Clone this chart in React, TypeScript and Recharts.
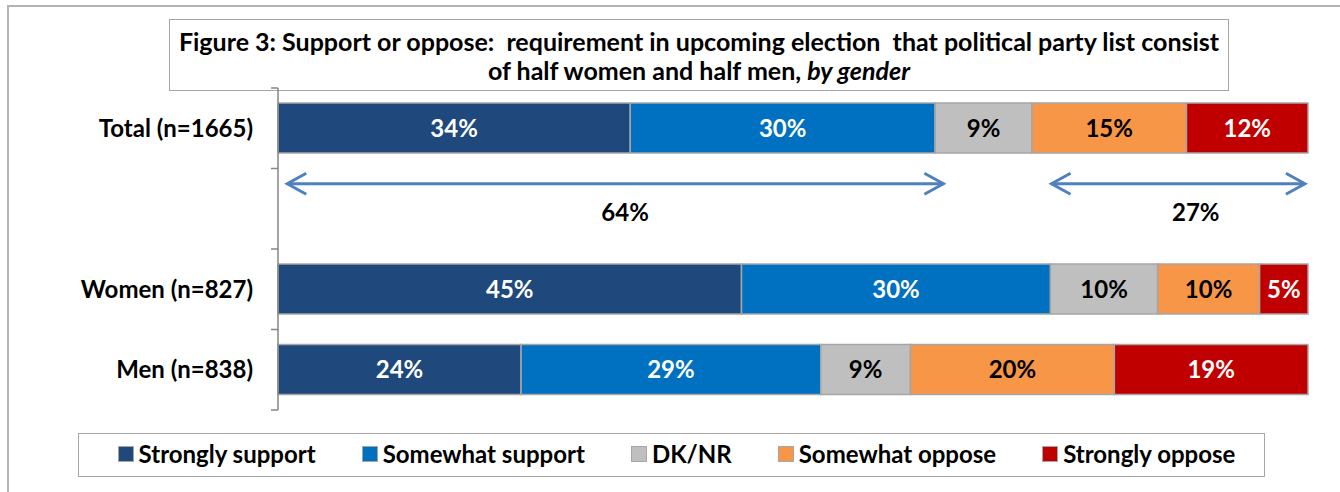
import React from "react";
import { BarChart, Bar, XAxis, YAxis, LabelList, ReferenceLine, Legend } from "recharts";

// rows of the chart; the blank row holds the net support / oppose arrows
const CATEGORIES = ["Total (n=1665)", " ", "Women (n=827)", "Men (n=838)"];
const STRONGLY_SUPPORT = [34.2, null, 45.0, 23.6];
const SOMEWHAT_SUPPORT = [29.6, null, 30.0, 29.1];
const DK_NR = [9.4, null, 10.4, 8.7];
const SOMEWHAT_OPPOSE = [15.0, null, 9.9, 19.8];
const STRONGLY_OPPOSE = [11.8, null, 4.7, 18.8];

// arrow spans (in % of the bar) and where the net label sits
const SUPPORT_ARROW = [0.9, 64.6];
const OPPOSE_ARROW = [75.1, 99.7];
const NET_LABEL_AT = [33.7, 89.1];

const SERIES = [
  { key: "strongSupport", name: "Strongly support", values: STRONGLY_SUPPORT, color: "#1F497D", text: "#FFFFFF" },
  { key: "someSupport", name: "Somewhat support", values: SOMEWHAT_SUPPORT, color: "#0070C0", text: "#FFFFFF" },
  { key: "dk", name: "DK/NR", values: DK_NR, color: "#BFBFBF", text: "#000000" },
  { key: "someOppose", name: "Somewhat oppose", values: SOMEWHAT_OPPOSE, color: "#F79646", text: "#000000" },
  { key: "strongOppose", name: "Strongly oppose", values: STRONGLY_OPPOSE, color: "#C00000", text: "#FFFFFF" },
];

const data = CATEGORIES.map((name, i) => {
  const row: Record<string, any> = { name };
  SERIES.forEach((s) => (row[s.key] = s.values[i]));
  return row;
});

const totalIdx = 0;
const netSupport = Math.round(STRONGLY_SUPPORT[totalIdx]! + SOMEWHAT_SUPPORT[totalIdx]!);
const netOppose = Math.round(SOMEWHAT_OPPOSE[totalIdx]! + STRONGLY_OPPOSE[totalIdx]!);

const W = 1340;
const H = 492;
const MARGIN = { top: 88, right: 32, bottom: 82, left: 0 };
const Y_WIDTH = 278;
const TICK_GAP = 25;
const BAND = (H - MARGIN.top - MARGIN.bottom) / CATEGORIES.length;
const FONT = "Lato, 'Open Sans', sans-serif";
const FS = 24;
const GRAY = "#A6A6A6";
const ARROW = "#4F81BD";

function CategoryTick(props: any) {
  const { x, y, payload, index } = props;
  const axisX = x + TICK_GAP;
  return (
    <g>
      <line x1={axisX - 7} x2={axisX} y1={y - BAND / 2} y2={y - BAND / 2} stroke="#868686" strokeWidth={1.5} />
      {index === CATEGORIES.length - 1 && (
        <line x1={axisX - 7} x2={axisX} y1={y + BAND / 2} y2={y + BAND / 2} stroke="#868686" strokeWidth={1.5} />
      )}
      <text x={x} y={y} dy="0.35em" textAnchor="end" fontSize={FS} fontWeight="bold" fill="#000">
        {payload.value}
      </text>
    </g>
  );
}

function arrowShape(range: number[], labelAt: number, label: string) {
  return (props: any) => {
    const { x1, y1, x2 } = props;
    if (x1 == null || y1 == null) return <g />;
    const y = y1 - 25;
    const lx = x1 + ((labelAt - range[0]) / (range[1] - range[0])) * (x2 - x1);
    return (
      <g>
        <line x1={x1} x2={x2} y1={y} y2={y} stroke={ARROW} strokeWidth={3} />
        <polyline points={`${x1 + 19},${y - 10.5} ${x1},${y} ${x1 + 19},${y + 10.5}`} fill="none" stroke={ARROW} strokeWidth={3} />
        <polyline points={`${x2 - 19},${y - 10.5} ${x2},${y} ${x2 - 19},${y + 10.5}`} fill="none" stroke={ARROW} strokeWidth={3} />
        <text x={lx} y={y1 + 4} dy="0.35em" textAnchor="middle" fontSize={FS} fontWeight="bold" fill="#000">
          {label}
        </text>
      </g>
    );
  };
}

function LegendBox() {
  return (
    <div
      style={{
        boxSizing: "border-box",
        width: 1187,
        height: 44,
        border: `1.5px solid ${GRAY}`,
        background: "#fff",
        display: "flex",
        alignItems: "center",
        justifyContent: "center",
        gap: 46,
        paddingLeft: 10,
        paddingBottom: 3,
      }}
    >
      {SERIES.map((s) => (
        <div key={s.key} style={{ display: "flex", alignItems: "center", gap: 5 }}>
          <span style={{ display: "inline-block", width: 14, height: 14, background: s.color, border: `1px solid ${GRAY}` }} />
          <span style={{ fontSize: FS, fontWeight: "bold", color: "#000" }}>{s.name}</span>
        </div>
      ))}
    </div>
  );
}

export default function App() {
  return (
    <div style={{ position: "absolute", left: 0, top: 0, width: W, height: H, overflow: "hidden", background: "#fff", fontFamily: FONT }}>
      <div style={{ position: "absolute", left: 7, top: 5, width: 1400, height: 600, border: "2px solid #B4B4B4" }} />
      <div
        style={{
          position: "absolute",
          left: 169,
          top: 19,
          width: 1060,
          height: 72,
          boxSizing: "border-box",
          border: `1.5px solid ${GRAY}`,
          background: "#fff",
          textAlign: "center",
          fontSize: 25,
          fontWeight: "bold",
          lineHeight: "29px",
          paddingTop: 7,
          color: "#000",
          whiteSpace: "nowrap",
        }}
      >
        Figure 3: Support or oppose:&nbsp; requirement in upcoming election&nbsp; that political party list consist
        <br />
        of half women and half men, <i>by gender</i>
      </div>
      <div style={{ position: "absolute", left: 0, top: 0 }}>
        <BarChart width={W} height={H} data={data} layout="vertical" margin={MARGIN} barSize={50}>
          <XAxis type="number" domain={[0, 100]} hide />
          <YAxis
            type="category"
            dataKey="name"
            width={Y_WIDTH}
            tickLine={false}
            tickSize={0}
            tickMargin={TICK_GAP}
            axisLine={{ stroke: "#868686", strokeWidth: 1.5 }}
            tick={<CategoryTick />}
            interval={0}
          />
          {SERIES.map((s) => (
            <Bar key={s.key} dataKey={s.key} name={s.name} stackId="a" fill={s.color} stroke={GRAY} strokeWidth={1.5} isAnimationActive={false}>
              <LabelList
                dataKey={s.key}
                position="center"
                fill={s.text}
                fontSize={FS}
                fontWeight="bold"
                formatter={(v: any) => (v == null ? "" : `${Math.round(Number(v))}%`)}
              />
            </Bar>
          ))}
          <ReferenceLine
            segment={[{ x: SUPPORT_ARROW[0], y: CATEGORIES[1] }, { x: SUPPORT_ARROW[1], y: CATEGORIES[1] }]}
            shape={arrowShape(SUPPORT_ARROW, NET_LABEL_AT[0], `${netSupport}%`)}
          />
          <ReferenceLine
            segment={[{ x: OPPOSE_ARROW[0], y: CATEGORIES[1] }, { x: OPPOSE_ARROW[1], y: CATEGORIES[1] }]}
            shape={arrowShape(OPPOSE_ARROW, NET_LABEL_AT[1], `${netOppose}%`)}
          />
          <Legend
            layout="horizontal"
            verticalAlign="middle"
            align="center"
            wrapperStyle={{ left: 78, top: 433, width: 1187, height: 44 }}
            content={() => <LegendBox />}
          />
        </BarChart>
      </div>
    </div>
  );
}
